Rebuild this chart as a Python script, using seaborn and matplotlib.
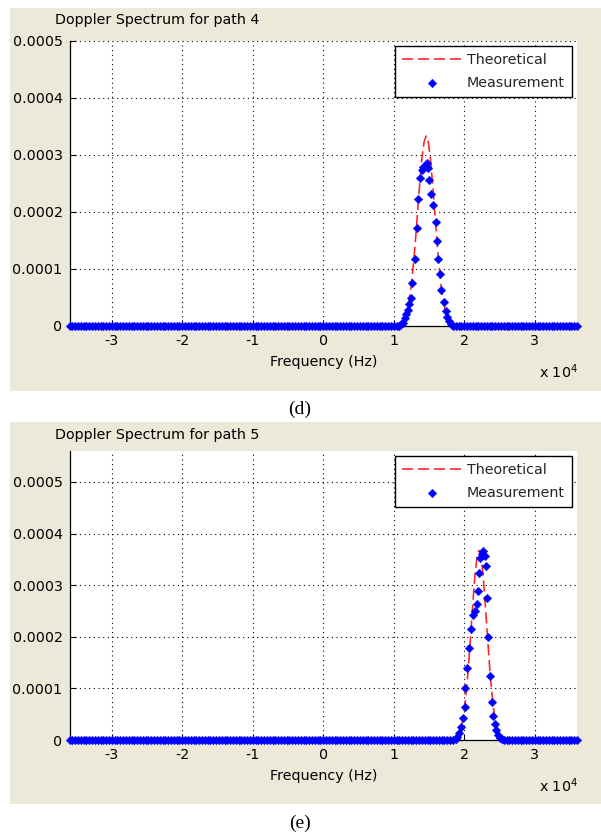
import numpy as np
import pandas as pd
import matplotlib
matplotlib.use("Agg")
import matplotlib.pyplot as plt
from matplotlib.patches import Rectangle
from matplotlib.ticker import FuncFormatter, FixedLocator
import seaborn as sns

sns.set_theme(style="white")
plt.rcParams['font.family'] = ['DejaVu Sans']
plt.rcParams['mathtext.fontset'] = 'dejavusans'

# ---------------- data ----------------
x_ticks = [-30000, -20000, -10000, 0, 10000, 20000, 30000]
y_ticks = [0, 0.0001, 0.0002, 0.0003, 0.0004, 0.0005]
freq_min, freq_max = -36000, 36000
baseline_step = 400

titles = ["Doppler Spectrum for path 4", "Doppler Spectrum for path 5"]
captions = ["(d)", "(e)"]
y_max = [0.0005, 0.00056]

# theoretical (red dashed), values in units of 1e-4
p4_theo_f = [-36000, 10400, 10700, 11000, 11300, 11600, 11900, 12200, 12500, 12800,
             13100, 13400, 13700, 14000, 14300, 14600, 14900, 15200, 15500, 15800,
             16100, 16400, 16700, 17000, 17300, 17600, 17900, 18200, 18500, 18800, 36000]
p4_theo_v = [0, 0.007, 0.017, 0.037, 0.076, 0.146, 0.265, 0.451, 0.720, 1.081,
             1.524, 2.020, 2.513, 2.939, 3.227, 3.330, 3.227, 2.939, 2.513, 2.020,
             1.524, 1.081, 0.720, 0.451, 0.265, 0.146, 0.076, 0.037, 0.017, 0.007, 0]

p5_theo_f = [-36000, 17900, 18200, 18500, 18800, 19100, 19400, 19700, 20000, 20300,
             20600, 20900, 21200, 21500, 21800, 22100, 22400, 22700, 23000, 23300,
             23600, 23900, 24200, 24500, 24800, 25100, 25400, 25700, 26000, 26300, 36000]
p5_theo_v = [0, 0.002, 0.006, 0.016, 0.037, 0.083, 0.171, 0.325, 0.574, 0.938,
             1.424, 2.002, 2.610, 3.154, 3.534, 3.670, 3.534, 3.154, 2.610, 2.002,
             1.424, 0.938, 0.574, 0.325, 0.171, 0.083, 0.037, 0.016, 0.006, 0.002, 0]

# measurement (blue diamonds) in the bell region, values in units of 1e-4
p4_meas_f = [11100, 11313, 11550, 11785, 11970, 12160, 12400, 12630, 13010, 13250,
             13430, 13715, 13950, 14140, 14380, 14660, 14890, 14990, 15310, 15550,
             16020, 16160, 16300, 16540, 16730, 17110, 17350, 17580, 17820, 18060]
p4_meas_v = [0.02, 0.05, 0.13, 0.20, 0.28, 0.38, 0.48, 0.75, 1.16, 1.72,
             2.22, 2.59, 2.74, 2.78, 2.81, 2.85, 2.76, 2.55, 2.31, 2.11,
             1.82, 1.48, 1.16, 0.90, 0.63, 0.41, 0.26, 0.15, 0.08, 0.02]

p5_meas_f = [18800, 18990, 19320, 19610, 19800, 20040, 20180, 20400, 20690, 20970,
             21250, 21590, 21820, 21960, 22150, 22300, 22480, 22620, 22910, 23050,
             23190, 23380, 23710, 23950, 24140, 24320, 24510, 24790, 25130, 25350]
p5_meas_v = [0.02, 0.06, 0.14, 0.26, 0.42, 0.64, 1.00, 1.39, 1.79, 2.16,
             2.42, 2.50, 2.64, 2.89, 3.24, 3.53, 3.60, 3.66, 3.56, 3.38,
             2.75, 1.99, 1.24, 0.74, 0.46, 0.31, 0.19, 0.10, 0.04, 0.02]

UNIT = 1e-4
panels = [
    (p4_theo_f, p4_theo_v, p4_meas_f, p4_meas_v),
    (p5_theo_f, p5_theo_v, p5_meas_f, p5_meas_v),
]

# ---------------- layout (pixels of a 601x834 figure) ----------------
W, H = 601, 834
fig = plt.figure(figsize=(W / 100, H / 100), dpi=100)
fig.patch.set_facecolor('white')

gray = '#ECE9D8'
gray_boxes = [(10, 8, 601, 391), (10, 422, 601, 804)]       # x0, y0, x1, y1
axes_boxes = [(69.5, 41, 577, 325.5), (69.5, 451, 577, 740)]
title_y = [20, 435]
xlabel_y = [362, 776]
offset_y = [372, 786]
caption_y = [409, 823]

for (x0, y0, x1, y1) in gray_boxes:
    fig.patches.append(Rectangle((x0 / W, 1 - y1 / H), (x1 - x0) / W, (y1 - y0) / H,
                                 transform=fig.transFigure, facecolor=gray,
                                 edgecolor='none', zorder=-10))

grid_style = dict(color='black', linestyle=(0, (1, 3.2)), linewidth=0.8)

for i, (tf, tv, mf, mv) in enumerate(panels):
    x0, y0, x1, y1 = axes_boxes[i]
    ax = fig.add_axes([x0 / W, 1 - y1 / H, (x1 - x0) / W, (y1 - y0) / H])
    ax.set_zorder(1)
    ax.set_facecolor('white')

    theo = pd.DataFrame({'f': tf, 'v': np.array(tv) * UNIT})
    lo, hi = min(mf) - 100, max(mf) + 100
    base_f = np.arange(freq_min, freq_max + 1, baseline_step)
    base_f = base_f[(base_f < lo) | (base_f > hi)]
    meas = pd.DataFrame({'f': np.concatenate([base_f, mf]),
                         'v': np.concatenate([np.zeros(len(base_f)), np.array(mv) * UNIT])})
    meas = meas.sort_values('f')

    sns.lineplot(data=theo, x='f', y='v', ax=ax, color='#FF2020', linewidth=1.15,
                 sort=False, estimator=None, label='Theoretical', zorder=3)
    ax.lines[-1].set_dashes((7, 3))
    sns.scatterplot(data=meas, x='f', y='v', ax=ax, color='blue', marker='D', s=19,
                    linewidth=0.3, edgecolor='blue', label='Measurement', zorder=4,
                    clip_on=False)

    ax.set_xlim(freq_min, freq_max)
    ax.set_ylim(0, y_max[i])
    ax.xaxis.set_major_locator(FixedLocator(x_ticks))
    ax.yaxis.set_major_locator(FixedLocator(y_ticks))
    ax.xaxis.set_major_formatter(FuncFormatter(lambda v, p: f"{v / 1e4:g}"))
    ax.yaxis.set_major_formatter(FuncFormatter(lambda v, p: f"{v:.4f}" if v != 0 else "0"))
    ax.grid(True, **grid_style)
    ax.set_axisbelow(True)
    for s in ['top', 'right']:
        ax.spines[s].set_visible(False)
    for s in ['left', 'bottom']:
        ax.spines[s].set_color('black')
        ax.spines[s].set_linewidth(0.9)
        ax.spines[s].set_zorder(2)
    ax.tick_params(axis='both', direction='in', length=4, width=0.8, colors='black',
                   labelsize=10.3, left=True, bottom=True)
    ax.tick_params(axis='y', pad=5)
    ax.tick_params(axis='x', pad=6)
    ax.set_ylabel('')
    ax.set_xlabel('Frequency (Hz)', fontsize=10.3, color='black')
    ax.xaxis.set_label_coords(0.5, (y1 - xlabel_y[i]) / (y1 - y0))
    ax.xaxis.label.set_va('center')

    leg = ax.legend(loc='upper right', frameon=True, fancybox=False, fontsize=10.3,
                    handlelength=4.1, handletextpad=0.4, borderpad=0.5,
                    borderaxespad=0.35, labelspacing=0.6, markerscale=1.0)
    leg.get_frame().set_edgecolor('black')
    leg.get_frame().set_linewidth(1.0)
    leg.get_frame().set_facecolor('white')
    leg.get_frame().set_alpha(1)
    leg.set_zorder(10)

    fig.text(55 / W, 1 - title_y[i] / H, titles[i], ha='left', va='center',
             fontsize=10.3, color='black')
    fig.text(578 / W, 1 - offset_y[i] / H, r'x 10$^{4}$', ha='right', va='center',
             fontsize=10.3, color='black')
    fig.text(300 / W, 1 - caption_y[i] / H, captions[i], ha='center', va='center',
             fontsize=14, color='black', family=['Liberation Serif', 'DejaVu Serif'])

fig.savefig('out.png', dpi=100, facecolor='white')
